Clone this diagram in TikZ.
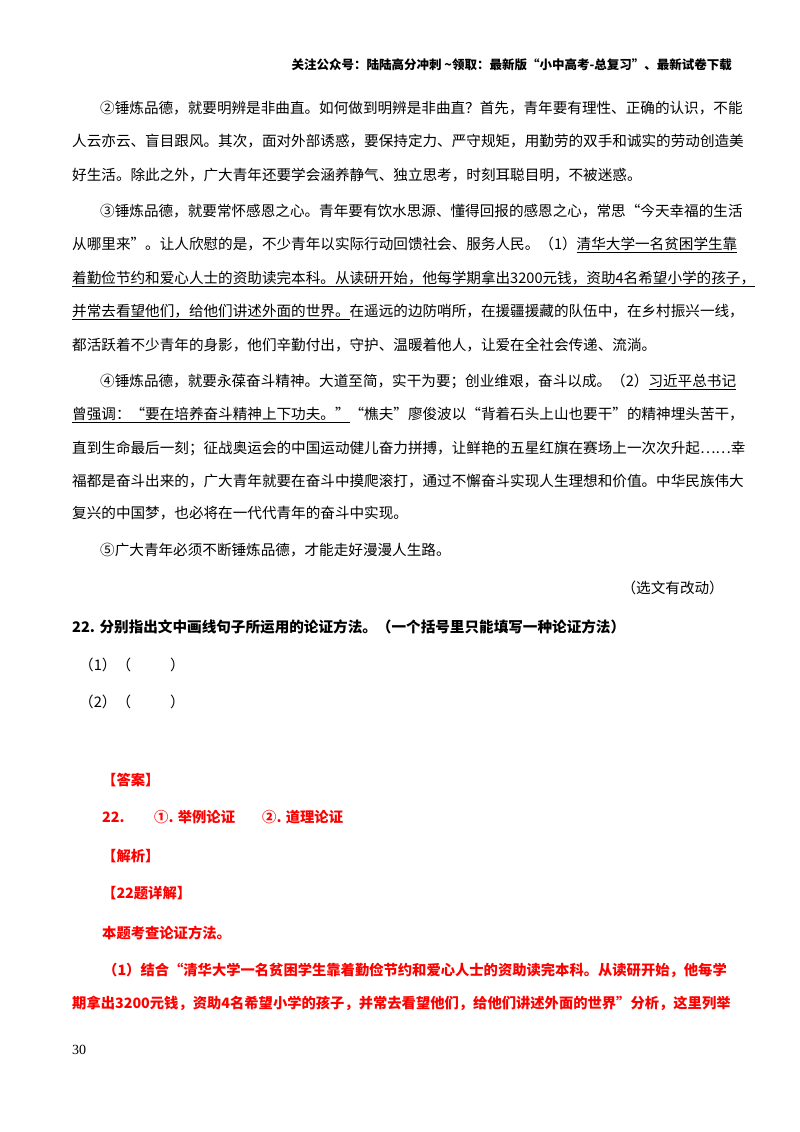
\documentclass[tikz,border=0pt]{standalone}
\usepackage{fontspec}
\setmainfont{Noto Sans CJK SC}
\newfontfamily\latin{Liberation Serif}
\begin{document}
\begin{tikzpicture}[x=1pt,y=-1pt,
  ln/.style={anchor=west,inner sep=0pt,font=\fontsize{14.6}{16}\selectfont},
  rd/.style={ln,text=red,font=\fontsize{14.3}{16}\selectfont\bfseries}]
\useasboundingbox[fill=white] (0,0) rectangle (800,1132);
\node[anchor=east,inner sep=0pt,font=\fontsize{12.5}{14}\selectfont\bfseries] (hd) at (732,65) {关注公众号：陆陆高分冲刺 \textasciitilde 领取：最新版“小中高考-总复习”、最新试卷下载};
\node[ln] (l1) at (100,108) {②锤炼品德，就要明辨是非曲直。如何做到明辨是非曲直？首先，青年要有理性、正确的认识，不能};
\node[ln] (l2) at (72,141) {人云亦云、盲目跟风。其次，面对外部诱惑，要保持定力、严守规矩，用勤劳的双手和诚实的劳动创造美};
\node[ln] (l3) at (72,175) {好生活。除此之外，广大青年还要学会涵养静气、独立思考，时刻耳聪目明，不被迷惑。};
\node[ln] (l4) at (100,211) {③锤炼品德，就要常怀感恩之心。青年要有饮水思源、懂得回报的感恩之心，常思“今天幸福的生活};
\node[ln] (l5) at (72,245) {从哪里来”。让人欣慰的是，不少青年以实际行动回馈社会、服务人民。（1）\underline{清华大学一名贫困学生靠}};
\node[ln] (l6) at (72,279) {\underline{着勤俭节约和爱心人士的资助读完本科。从读研开始，他每学期拿出3200元钱，资助4名希望小学的孩子，}};
\node[ln] (l7) at (72,312) {\underline{并常去看望他们，给他们讲述外面的世界。}在遥远的边防哨所，在援疆援藏的队伍中，在乡村振兴一线，};
\node[ln] (l8) at (72,345) {都活跃着不少青年的身影，他们辛勤付出，守护、温暖着他人，让爱在全社会传递、流淌。};
\node[ln] (l9) at (100,382) {④锤炼品德，就要永葆奋斗精神。大道至简，实干为要；创业维艰，奋斗以成。（2）\underline{习近平总书记}};
\node[ln] (l10) at (72,415) {\underline{曾强调：“要在培养奋斗精神上下功夫。”}“樵夫”廖俊波以“背着石头上山也要干”的精神埋头苦干，};
\node[ln] (l11) at (72,448) {直到生命最后一刻；征战奥运会的中国运动健儿奋力拼搏，让鲜艳的五星红旗在赛场上一次次升起……幸};
\node[ln] (l12) at (72,481) {福都是奋斗出来的，广大青年就要在奋斗中摸爬滚打，通过不懈奋斗实现人生理想和价值。中华民族伟大};
\node[ln] (l13) at (72,513) {复兴的中国梦，也必将在一代代青年的奋斗中实现。};
\node[ln] (l14) at (100,550) {⑤广大青年必须不断锤炼品德，才能走好漫漫人生路。};
\node[ln,anchor=east] (src) at (724,588) {（选文有改动）};
\node[ln,font=\fontsize{14.6}{16}\selectfont\bfseries] (q) at (72,627) {22. 分别指出文中画线句子所运用的论证方法。（一个括号里只能填写一种论证方法）};
\node[ln] (a1) at (79,665) {（1）（};
\node[ln] (a1r) at (170,665) {）};
\node[ln] (a2) at (79,702) {（2）（};
\node[ln] (a2r) at (170,702) {）};
\node[rd] (ans) at (102,780) {【答案】};
\node[rd] (n22) at (102,817) {22.};
\node[rd] (e1) at (154,817) {①. 举例论证};
\node[rd] (e2) at (262,817) {②. 道理论证};
\node[rd] (jx) at (102,856) {【解析】};
\node[rd] (xj) at (102,893) {【22题详解】};
\node[rd] (bt) at (102,933) {本题考查论证方法。};
\node[rd] (r1) at (103,970) {（1）结合“清华大学一名贫困学生靠着勤俭节约和爱心人士的资助读完本科。从读研开始，他每学};
\node[rd] (r2) at (72,1003) {期拿出3200元钱，资助4名希望小学的孩子，并常去看望他们，给他们讲述外面的世界”分析，这里列举};
\node[anchor=west,inner sep=0pt,font=\latin\fontsize{14}{16}\selectfont] (pg) at (72,1050) {30};
\end{tikzpicture}
\end{document}
